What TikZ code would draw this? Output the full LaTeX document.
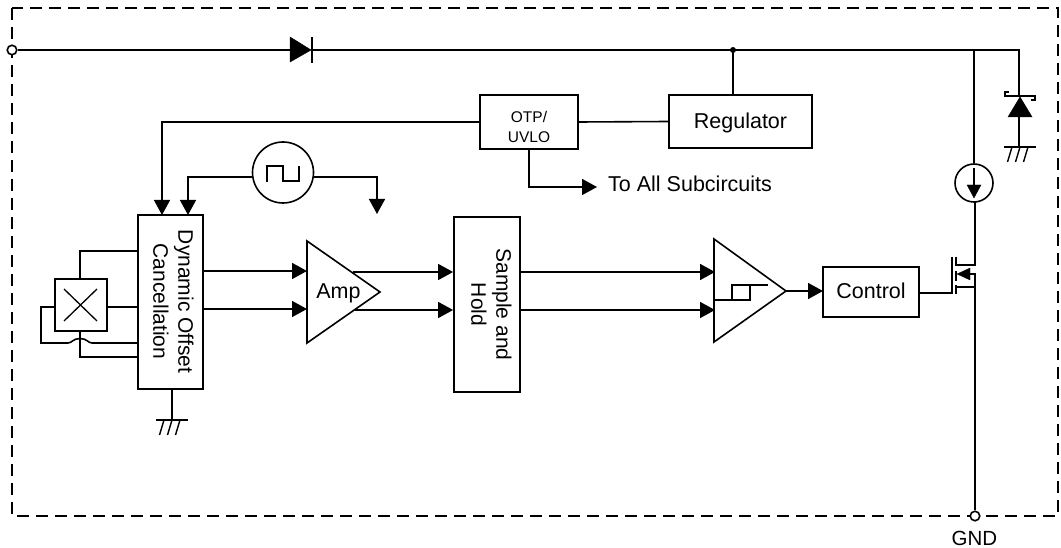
\documentclass[tikz,border=0pt]{standalone}
\usepackage{fontspec}
\setmainfont{Liberation Sans}
\usetikzlibrary{arrows.meta}
\tikzset{
  x=1pt,y=-1pt,
  wire/.style={line width=1.6pt,line join=miter},
  arr/.style={wire,-{Triangle[length=15pt,width=16pt]}},
  blockbox/.style={draw,line width=1.8pt,rectangle,inner sep=0pt,align=center,font=\fontsize{21.5}{25}\selectfont},
  sym/.style={line width=1.6pt},
  term/.style={draw,circle,line width=1.6pt,fill=white,minimum size=9.5pt,inner sep=0pt},
  dot/.style={circle,fill=black,minimum size=6pt,inner sep=0pt},
  txt/.style={inner sep=0pt,align=center,font=\fontsize{21.5}{25}\selectfont},
  gndsym/.pic={
    \draw[sym] (-16,0) -- (16,0);
    \draw[line width=1.4pt] (-8,0) -- (-12.5,15) (0,0) -- (-4.5,15) (8,0) -- (3.5,15);
  }
}
\begin{document}
\begin{tikzpicture}
\useasboundingbox (0,0) rectangle (1061,548);
% enclosure
\draw[line width=1.4pt,dash pattern=on 12pt off 7pt] (12,8) rectangle (1058,516);

% blocks
\node[blockbox,minimum width=98pt,minimum height=54pt] (otp) at (529,122) {};
\node[inner sep=0pt,align=center,font=\fontsize{15.5}{20}\selectfont] (otptxt) at (529,127) {OTP/\\UVLO};
\node[blockbox,minimum width=143pt,minimum height=53pt,text height=15pt,text depth=1.5pt] (reg) at (740.5,121.5) {Regulator};
\node[blockbox,minimum width=65pt,minimum height=174pt] (doc) at (170.5,302) {};
\node[txt,rotate=-90,font=\fontsize{21}{25}\selectfont] (doctxt) at (173.5,301.5) {Dynamic Offset\\Cancellation};
\node[blockbox,minimum width=66pt,minimum height=175pt] (sh) at (487,304.5) {};
\node[txt,rotate=-90,font=\fontsize{21}{25}\selectfont] (shtxt) at (491.5,304.5) {Sample and\\Hold};
\node[blockbox,minimum width=96pt,minimum height=50pt,text height=15pt,text depth=1.5pt] (ctl) at (871,292) {Control};
\node[draw,line width=1.8pt,rectangle,minimum size=52pt,inner sep=0pt] (hall) at (81,305) {};
\node[draw,circle,line width=1.6pt,minimum size=61pt,inner sep=0pt] (clk) at (283,172.5) {};
\node[draw,circle,line width=1.6pt,minimum size=38pt,inner sep=0pt] (cs) at (974,183) {};
\node[term] (vin) at (12,50) {};
\node[term] (gnd) at (975,516) {};
\node[dot] (jn) at (733,50) {};
\node[txt,anchor=base,font=\fontsize{20.5}{25}\selectfont] (gndt) at (974.5,545) {GND};
\node[txt,anchor=base west] (all) at (608,192) {To All Subcircuits};

% coordinates
\coordinate (d1) at (290,50);
\coordinate (d2) at (312,50);
\coordinate (tvstop) at (1019,50);
\coordinate (tvsbar) at (1019,97);
\coordinate (tvsbot) at (1019,117);
\coordinate (tvsg) at (1019,147);
\coordinate (csj) at (974,50);
\coordinate (drn) at (975,265);
\coordinate (chd) at (956,265);
\coordinate (chs) at (956,287);
\coordinate (src) at (975,287);
\coordinate (bdy) at (975,274);
\coordinate (chb) at (957,274);
\coordinate (gate) at (952,293);

% main rail
\draw[wire] (vin) -- (d1);
\draw[wire] (d2) -- (jn.center) -- (tvstop) -- (tvsbar);
\filldraw[line width=0.5pt] (290,37) -- (290,62) -- (311,50) -- cycle;
\draw[line width=1.4pt] (312,37) -- (312,63);
\draw[wire] (jn.center) -- (reg.north -| jn);
\draw[wire] (otp.east) -- (reg.west);

% TVS
\draw[line width=1.4pt] (1009,92) -- (1005,92) -- (1005,96) -- (1035,96) -- (1035,100) -- (1031,100);
\filldraw[line width=0.5pt] (1020,97) -- (1008,117) -- (1032,117) -- cycle;
\draw[wire] (tvsbot) -- (tvsg);
\pic at (1020,147) {gndsym};

% OTP outputs
\coordinate (otpd) at (162,122);
\coordinate (doca) at (162,215);
\draw[arr] (otp.west) -- (otpd) -- (doca);
\coordinate (otpb) at (529,187);
\coordinate (otpe) at (597,187);
\draw[arr] (otp.south) -- (otpb) -- (otpe);

% clock
\coordinate (clkl) at (188,177);
\coordinate (clka) at (188,215);
\coordinate (clkr) at (377,177);
\coordinate (clke) at (377,214);
\draw[arr] (clk.west |- clkl) -- (clkl) -- (clka);
\draw[arr] (clk.east |- clkr) -- (clkr) -- (clke);
\draw[line width=1.3pt] (267,182) -- (267,166) -- (283,166) -- (283,181) -- (299,181) -- (299,166);

% hall element
\draw[line width=1.3pt] (64,289) -- (97,321) (97,289) -- (64,321);
\coordinate (h1) at (80,251);
\draw[wire] (hall.north -| h1) -- (h1) -- (doc.west |- h1);
\draw[wire] (hall.east |- 0,307) -- (doc.west |- 0,307);
\draw[wire] (hall.west |- 0,307) -- (41,307) -- (41,343) -- (68,343)
  .. controls (72,343) and (73,338.5) .. (80,338.5)
  .. controls (87,338.5) and (88,343) .. (92,343) -- (doc.west |- 0,343);
\draw[wire] (hall.south -| h1) -- (80,357) -- (doc.west |- 0,357);

% DOC ground
\coordinate (docg) at (172,420);
\draw[wire] (doc.south -| docg) -- (docg);
\pic at (172,420) {gndsym};

% signal path
\coordinate (a1) at (307,271);
\coordinate (a2) at (307,309);
\coordinate (a3) at (307,241);
\coordinate (a4) at (307,343);
\coordinate (a5) at (380,292);
\node[txt,anchor=base] (amp) at (338.5,299) {Amp};
\draw[line width=1.6pt,line join=miter] (a3) -- (a5) -- (a4) -- cycle;
\draw[arr] (doc.east |- a1) -- (a1);
\draw[arr] (doc.east |- a2) -- (a2);
\draw[arr] (353,272) -- (sh.west |- 0,272);
\draw[arr] (355,310) -- (sh.west |- 0,310);
\coordinate (c1) at (715,272);
\coordinate (c2) at (715,310);
\coordinate (c3) at (714,239);
\coordinate (c4) at (714,342);
\coordinate (c5) at (786,291);
\draw[line width=1.6pt,line join=miter] (c3) -- (c5) -- (c4) -- cycle;
\draw[line width=1.4pt] (714,300) -- (750,300) -- (750,285) -- (732,285) -- (732,300) (750,285) -- (768,285);
\draw[arr] (sh.east |- c1) -- (c1);
\draw[arr] (sh.east |- c2) -- (c2);
\coordinate (ctla) at (823,291);
\draw[arr] (c5) -- (ctla);

% MOSFET
\draw[wire] (ctl.east |- gate) -- (gate) -- (952,257);
\draw[line width=1.6pt] (956,257) -- (956,266) (956,271) -- (956,281) (956,285) -- (956,294);
\draw[wire] (chd) -- (drn) -- (975,202);
\draw[wire] (chs) -- (src);
\draw[wire] (gnd) -- (bdy) -- (967,274);
\filldraw[line width=0.3pt] (chb) -- (970,268) -- (970,280) -- cycle;

% current source
\draw[wire] (csj) -- (cs.north);
\draw[line width=1.3pt] (974,168) -- (974,186);
\filldraw[line width=0.3pt] (974,198) -- (967,185) -- (981,185) -- cycle;
\end{tikzpicture}
\end{document}
